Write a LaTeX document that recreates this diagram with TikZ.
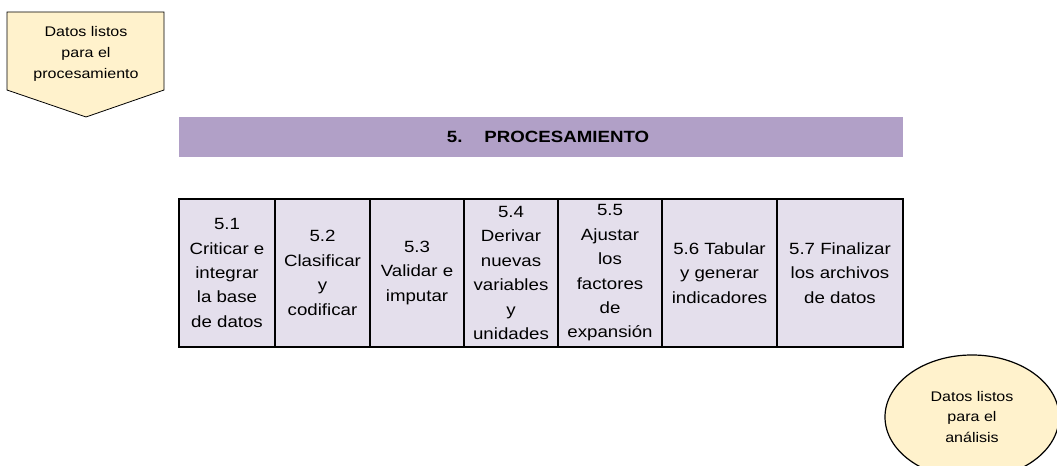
\documentclass[tikz,border=0pt]{standalone}
\usepackage{fontspec}
\setmainfont{Liberation Sans}[FakeStretch=1.15]
\usetikzlibrary{positioning, shapes.geometric}

\definecolor{barra}{HTML}{B1A0C7}
\definecolor{celda}{HTML}{E4DFEC}
\definecolor{crema}{HTML}{FFF2CC}

\begin{document}
\begin{tikzpicture}[x=1bp, y=-1bp,
    paso/.style={draw, line width=2.5bp, fill=celda, outer sep=0pt, inner sep=0pt,
        minimum height=148bp, align=center, font=\fontsize{16.3}{24.5}\selectfont},
    nota/.style={align=center, font=\fontsize{14}{21}\selectfont}]
    \useasboundingbox (0,0) rectangle (1057,466);
    % entrada
    \path[draw, fill=crema, line width=0.8bp] (7,12) -- (164,12) -- (164,90)
        -- (86,117) -- (7,90) -- cycle;
    \node[nota] (entrada) at (86,54) {Datos listos\\para el\\procesamiento};
    % titulo
    \node[fill=barra, minimum width=724bp, minimum height=40bp, inner sep=0pt,
        outer sep=0pt] (barra) at (541,137) {};
    \node[font=\fontsize{16.3}{20}\selectfont\bfseries] (titulo)
        at ([xshift=7bp]barra.center) {5.\hspace{22bp}PROCESAMIENTO};
    % pasos
    \node[paso, minimum width=96bp] (p51) at (227,273) {5.1\\Criticar e\\integrar\\la base\\de datos};
    \node[paso, minimum width=95bp, right=0pt of p51] (p52) {5.2\\Clasificar\\y\\codificar};
    \node[paso, minimum width=94bp, right=0pt of p52] (p53) {5.3\\Validar e\\imputar};
    \node[paso, minimum width=94bp, right=0pt of p53] (p54) {5.4\\Derivar\\nuevas\\variables\\y\\unidades};
    \node[paso, minimum width=104bp, right=0pt of p54] (p55) {5.5\\Ajustar\\los\\factores\\de\\expansión};
    \node[paso, minimum width=115bp, right=0pt of p55] (p56) {5.6 Tabular\\y generar\\indicadores};
    \node[paso, minimum width=126bp, right=0pt of p56] (p57) {5.7 Finalizar\\los archivos\\de datos};
    % salida
    \node[ellipse, draw, line width=1.2bp, fill=crema, minimum width=174bp,
        minimum height=124bp, inner sep=0pt, nota] (salida) at (972,417)
        {Datos listos\\para el\\análisis};
\end{tikzpicture}
\end{document}
